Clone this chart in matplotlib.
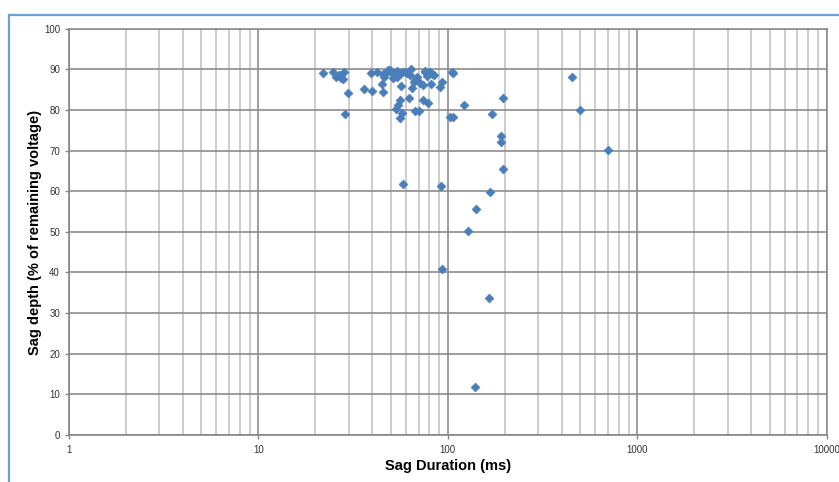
import matplotlib
matplotlib.use("Agg")
import matplotlib.pyplot as plt
from matplotlib.patches import Rectangle
from matplotlib.ticker import LogLocator, FixedLocator, NullFormatter

# Sag events: duration (ms) and remaining voltage (%)
duration_ms = [
    21.8, 24.9, 25.6, 26.5, 27.3, 28.4, 28.1, 29.8, 28.7,
    36.2, 39.2, 39.6, 42.1, 44.8, 45.7, 46.0, 47.6, 49.5, 50.5,
    52.6, 53.7, 51.6, 56.4, 57.1, 59.5, 63.9, 63.1, 62.4, 55.9,
    54.8, 53.2, 57.5, 55.9, 67.1, 68.5, 64.5, 71.3, 74.2, 75.8,
    78.6, 80.5, 82.5, 77.6, 74.2, 78.9, 67.1, 70.8, 81.2, 91.0,
    93.6, 104.9, 106.9, 102.8, 106.0, 121.8, 171.9, 196.3, 190.2,
    190.2, 196.3, 57.8, 92.4, 167.6, 141.3, 128.3, 93.2, 164.4,
    138.7, 452.6, 499.3, 701.5, 54.0, 56.0, 61.0, 66.0, 76.0,
    84.0, 45.3, 48.5,
]
remaining_pct = [
    89.2, 89.3, 88.2, 88.6, 87.8, 89.3, 87.5, 84.1, 78.9,
    85.2, 89.0, 84.7, 89.3, 86.3, 84.5, 88.2, 89.3, 89.8, 89.0,
    88.6, 88.2, 87.8, 86.0, 89.4, 89.4, 90.1, 88.6, 82.9, 82.5,
    81.2, 80.2, 79.3, 77.9, 87.4, 88.2, 85.3, 86.6, 86.1, 89.3,
    88.9, 89.3, 88.9, 88.4, 82.5, 81.6, 79.8, 79.8, 86.4, 85.7,
    87.0, 89.3, 89.0, 78.2, 78.2, 81.1, 79.0, 83.0, 73.6,
    72.0, 65.4, 61.7, 61.3, 59.8, 55.7, 50.3, 40.9, 33.8,
    11.8, 88.0, 80.0, 70.1, 89.6, 88.9, 89.0, 86.9, 89.6,
    88.5, 88.8, 89.9,
]

x_ticks = [1, 10, 100, 1000, 10000]
x_tick_labels = ["1", "10", "100", "1000", "10000"]
y_ticks = list(range(0, 101, 10))

plt.rcParams["font.family"] = ["Liberation Sans", "DejaVu Sans"]

W, H = 839, 482
fig = plt.figure(figsize=(W / 100, H / 100), dpi=100)
fig.patch.set_facecolor("white")

# Chart frame
fig.patches.append(Rectangle((8.5 / W, -0.2), 1.2, 1.2 - 14.5 / H,
                             transform=fig.transFigure, fill=False,
                             edgecolor="#6f9fd8", linewidth=1.6, zorder=0))

ax = fig.add_axes([69 / W, 1 - 435 / H, (826.7 - 69) / W, (435 - 28.7) / H])
ax.set_xscale("log")
ax.set_xlim(1, 10000)
ax.set_ylim(0, 100)

ax.xaxis.set_major_locator(FixedLocator(x_ticks))
ax.set_xticklabels(x_tick_labels)
ax.xaxis.set_minor_locator(LogLocator(base=10, subs=range(2, 10), numticks=50))
ax.xaxis.set_minor_formatter(NullFormatter())
ax.set_yticks(y_ticks)

ax.grid(True, which="major", axis="both", color="#8c8c8c", linewidth=1.2)
ax.grid(True, which="minor", axis="x", color="#c4c4c4", linewidth=1.2)
ax.set_axisbelow(True)

for side in ["top", "right"]:
    ax.spines[side].set_color("#8c8c8c")
    ax.spines[side].set_linewidth(1.2)
for side in ["left", "bottom"]:
    ax.spines[side].set_color("#868686")
    ax.spines[side].set_linewidth(1.2)

ax.tick_params(axis="both", which="major", direction="out", length=3,
               width=1, color="#868686", labelsize=7, labelcolor="#333333")
ax.tick_params(axis="x", which="minor", length=0)
ax.tick_params(axis="x", pad=4)

ax.scatter(duration_ms, remaining_pct, marker="D", s=20, color="#4a7ebb",
           edgecolors="#4a7ebb", linewidths=0.5, zorder=3, clip_on=False)

ax.set_xlabel("Sag Duration (ms)", fontsize=10.5, fontweight="bold")
ax.set_ylabel("Sag depth (% of remaining voltage)", fontsize=10.5,
              fontweight="bold")
ax.xaxis.set_label_coords((448 - 69) / (826.7 - 69), -(466 - 435) / (435 - 28.7))
ax.yaxis.set_label_coords(-(69 - 35) / (826.7 - 69), (435 - 232) / (435 - 28.7))
ax.xaxis.label.set_verticalalignment("center")
ax.yaxis.label.set_verticalalignment("center")

fig.savefig("out.png", dpi=100)
